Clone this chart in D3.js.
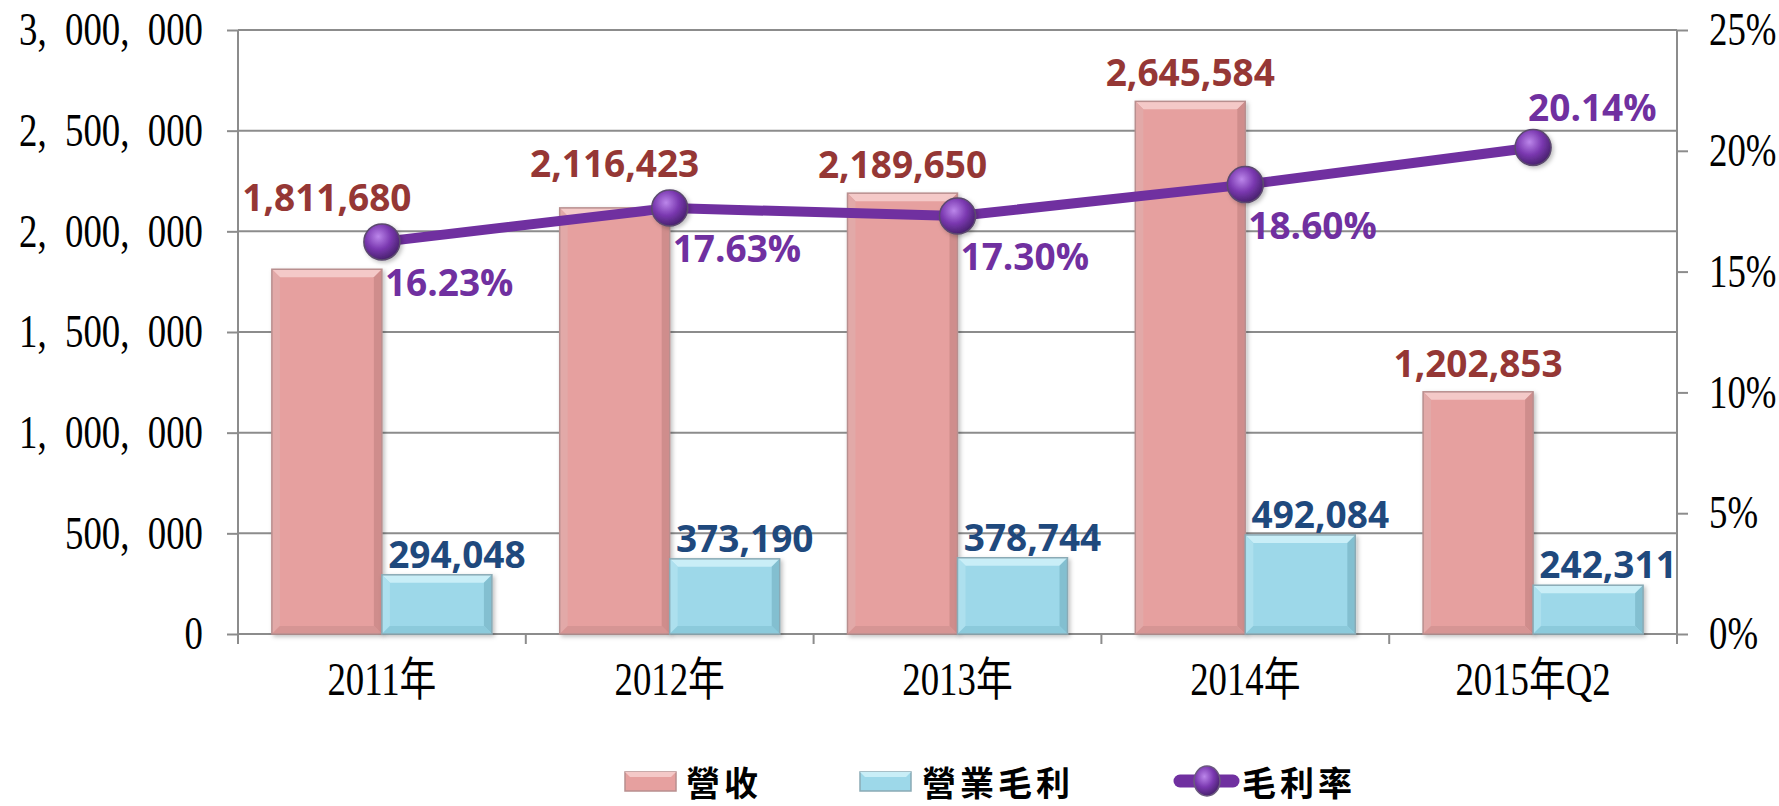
<!DOCTYPE html>
<html>
<head>
<meta charset="utf-8">
<script src="https://cdn.jsdelivr.net/npm/d3@7"></script>
<style>
  body { margin: 0; background: #fff; }
  svg { display: block; }
</style>
</head>
<body>
<div id="chart"></div>
<script>
// data
var years = ["2011年", "2012年", "2013年", "2014年", "2015年Q2"];
var revenue = [1811680, 2116423, 2189650, 2645584, 1202853];
var grossProfit = [294048, 373190, 378744, 492084, 242311];
var grossMargin = [0.1623, 0.1763, 0.1730, 0.1860, 0.2014];
var leftTicks = [0, 500000, 1000000, 1500000, 2000000, 2500000, 3000000];
var rightTicks = [0, 0.05, 0.10, 0.15, 0.20, 0.25];
var seriesNames = ["營收", "營業毛利", "毛利率"];

// set the dimensions and margins of the graph
var margin = {top: 30, right: 102, bottom: 172, left: 238},
    width = 1779 - margin.left - margin.right,
    height = 806 - margin.top - margin.bottom;

var squeeze = 0.8;   // tick labels are tall and narrow
var serif = "'Liberation Serif', 'Times New Roman', 'Noto Sans CJK TC', serif";
var sans = "'Open Sans', 'Noto Sans', sans-serif";

var root = d3.select("#chart")
  .append("svg")
    .attr("width", width + margin.left + margin.right)
    .attr("height", height + margin.top + margin.bottom);

var defs = root.append("defs");
var grad = defs.append("radialGradient")
    .attr("id", "ball")
    .attr("cx", "40%").attr("cy", "35%").attr("r", "65%");
grad.append("stop").attr("offset", "0%").attr("stop-color", "#bb86ea");
grad.append("stop").attr("offset", "55%").attr("stop-color", "#7a38b0");
grad.append("stop").attr("offset", "100%").attr("stop-color", "#4a2270");
defs.append("filter")
    .attr("id", "shadow")
    .attr("x", "-20%").attr("y", "-20%").attr("width", "140%").attr("height", "140%")
  .append("feDropShadow")
    .attr("dx", 2).attr("dy", 2).attr("stdDeviation", 2)
    .attr("flood-color", "#000").attr("flood-opacity", 0.25);

var svg = root.append("g")
    .attr("transform", "translate(" + margin.left + "," + margin.top + ")");

// scales
var x = d3.scaleBand()
  .domain(years)
  .range([0, width]);
var xs = d3.scaleBand()
  .domain(["rev", "gp"])
  .range([0, x.bandwidth()])
  .paddingOuter(0.308);
var y = d3.scaleLinear()
  .domain([0, 3000000])
  .range([height, 0]);
var y2 = d3.scaleLinear()
  .domain([0, 0.25])
  .range([height, 0]);

// gridlines
svg.append("g")
  .selectAll("line")
  .data(leftTicks)
  .enter().append("line")
    .attr("x1", 0)
    .attr("x2", width)
    .attr("y1", function(d) { return y(d); })
    .attr("y2", function(d) { return y(d); })
    .attr("stroke", "#8c8c8c")
    .attr("stroke-width", 2);

// left axis
var fmtLeft = function(d) { return d3.format(",")(d).replace(/,/g, ",\u2002"); };
var gl = svg.append("g")
  .call(d3.axisLeft(y).tickValues(leftTicks).tickFormat(fmtLeft).tickSize(11).tickPadding(24));
// right axis
var gr = svg.append("g")
  .attr("transform", "translate(" + width + ",0)")
  .call(d3.axisRight(y2).tickValues(rightTicks).tickFormat(d3.format(".0%")).tickSize(11).tickPadding(21));

[gl, gr].forEach(function(g) {
  g.select(".domain").attr("stroke", "#8c8c8c").attr("stroke-width", 2)
    .attr("d", function() { return "M0,0V" + (height + 10); });
  g.selectAll(".tick line").attr("stroke", "#8c8c8c").attr("stroke-width", 2);
  g.selectAll(".tick text")
    .attr("font-family", serif)
    .attr("font-size", 46)
    .attr("fill", "#000")
    .attr("transform", "scale(" + squeeze + ",1)")
    .attr("x", function() { return +d3.select(this).attr("x") / squeeze; });
});

// bottom axis: baseline, boundary ticks and labels
svg.append("line")
  .attr("x1", 0).attr("x2", width)
  .attr("y1", height).attr("y2", height)
  .attr("stroke", "#8c8c8c").attr("stroke-width", 2);
svg.append("g")
  .selectAll("line")
  .data(years.slice(1))
  .enter().append("line")
    .attr("x1", function(d) { return x(d); })
    .attr("x2", function(d) { return x(d); })
    .attr("y1", height)
    .attr("y2", height + 10)
    .attr("stroke", "#8c8c8c")
    .attr("stroke-width", 2);
var gb = svg.append("g")
  .attr("transform", "translate(0," + height + ")")
  .call(d3.axisBottom(x).tickSize(0));
gb.select(".domain").remove();
gb.selectAll(".tick text")
  .attr("font-family", serif)
  .attr("font-size", 46)
  .attr("fill", "#000")
  .attr("y", 61)
  .attr("dy", 0)
  .attr("transform", "scale(" + squeeze + ",1)");

// bevelled bars
function drawBar(g, x0, w, v, c) {
  var top = y(v), h = height - top, b = Math.min(8, h / 2);
  var bar = g.append("g").attr("filter", "url(#shadow)");
  bar.append("rect")
    .attr("x", x0).attr("y", top).attr("width", w).attr("height", h)
    .attr("fill", c.main);
  bar.append("polygon")
    .attr("points", [[x0, top], [x0 + w, top], [x0 + w - b, top + b], [x0 + b, top + b]].join(" "))
    .attr("fill", c.top);
  bar.append("polygon")
    .attr("points", [[x0 + w, top], [x0 + w, height], [x0 + w - b, height - b], [x0 + w - b, top + b]].join(" "))
    .attr("fill", c.right);
  bar.append("polygon")
    .attr("points", [[x0, top], [x0 + b, top + b], [x0 + b, height - b], [x0, height]].join(" "))
    .attr("fill", c.left);
  bar.append("polygon")
    .attr("points", [[x0, height], [x0 + b, height - b], [x0 + w - b, height - b], [x0 + w, height]].join(" "))
    .attr("fill", c.bottom);
  bar.append("rect")
    .attr("x", x0).attr("y", top).attr("width", w).attr("height", h)
    .attr("fill", "none").attr("stroke", c.edge).attr("stroke-width", 1.5);
}
var pink = {main: "#e6a09f", top: "#f4c9c8", right: "#cf8d8c", left: "#e2a9a8", bottom: "#d69594", edge: "#b88f8f"};
var blue = {main: "#9dd8e9", top: "#c9eef7", right: "#83bfd0", left: "#ade0ee", bottom: "#8ccadb", edge: "#8aaab5"};

var bars = svg.append("g");
years.forEach(function(yr, i) {
  drawBar(bars, x(yr) + xs("rev"), xs.bandwidth(), revenue[i], pink);
  drawBar(bars, x(yr) + xs("gp"), xs.bandwidth(), grossProfit[i], blue);
});

// line and markers
var cx = function(i) { return x(years[i]) + x.bandwidth() / 2; };
var r = 18;
var line = d3.line()
  .x(function(d, i) { return cx(i); })
  .y(function(d) { return y2(d); });

// revenue labels, lifted over the marker when they would collide
svg.append("g")
  .selectAll("text")
  .data(revenue)
  .enter().append("text")
    .attr("x", function(d, i) { return x(years[i]) + xs("rev") + xs.bandwidth() / 2; })
    .attr("y", function(d, i) {
      var base = y(d) - 15, my = y2(grossMargin[i]);
      if (my + r > base - 26 && my - r < base + 2) base = my - r - 13;
      return base;
    })
    .attr("text-anchor", "middle")
    .attr("font-family", sans)
    .attr("font-weight", 700)
    .attr("font-size", 37)
    .attr("fill", "#953735")
    .text(d3.format(","));

// gross profit labels
svg.append("g")
  .selectAll("text")
  .data(grossProfit)
  .enter().append("text")
    .attr("x", function(d, i) { return x(years[i]) + xs("gp") + xs.bandwidth() / 2 + 20; })
    .attr("y", function(d) { return y(d) - 7; })
    .attr("text-anchor", "middle")
    .attr("font-family", sans)
    .attr("font-weight", 700)
    .attr("font-size", 37)
    .attr("fill", "#1f497d")
    .text(d3.format(","));

svg.append("path")
  .datum(grossMargin)
  .attr("d", line)
  .attr("fill", "none")
  .attr("stroke", "#7030a0")
  .attr("stroke-width", 10)
  .attr("stroke-linejoin", "round");

svg.append("g")
  .selectAll("circle")
  .data(grossMargin)
  .enter().append("circle")
    .attr("cx", function(d, i) { return cx(i); })
    .attr("cy", function(d) { return y2(d); })
    .attr("r", r)
    .attr("fill", "url(#ball)")
    .attr("stroke", "#5b4a6e")
    .attr("stroke-width", 1.5)
    .attr("filter", "url(#shadow)");

// margin labels: below right, last one above
svg.append("g")
  .selectAll("text")
  .data(grossMargin)
  .enter().append("text")
    .attr("x", function(d, i) { return cx(i) + (i === grossMargin.length - 1 ? -5 : 3); })
    .attr("y", function(d, i) { return y2(d) + (i === grossMargin.length - 1 ? -26 : 54); })
    .attr("font-family", sans)
    .attr("font-weight", 700)
    .attr("font-size", 37)
    .attr("fill", "#7030a0")
    .text(d3.format(".2%"));

// legend
var legend = root.append("g");
var ly = 781;
var lx = [625, 860, 1174];
var tx = [686, 922, 1242];
[pink, blue].forEach(function(c, k) {
  legend.append("rect")
    .attr("x", lx[k]).attr("y", ly - 9).attr("width", 51).attr("height", 19)
    .attr("fill", c.main).attr("stroke", c.edge).attr("stroke-width", 1.5);
  legend.append("polygon")
    .attr("points", [[lx[k], ly - 9], [lx[k] + 51, ly - 9], [lx[k] + 46, ly - 4], [lx[k] + 5, ly - 4]].join(" "))
    .attr("fill", c.top);
});
legend.append("line")
  .attr("x1", lx[2] + 6).attr("x2", lx[2] + 59)
  .attr("y1", ly).attr("y2", ly)
  .attr("stroke", "#7030a0").attr("stroke-width", 13).attr("stroke-linecap", "round");
legend.append("ellipse")
  .attr("cx", lx[2] + 33).attr("cy", ly).attr("rx", 13).attr("ry", 15)
  .attr("fill", "url(#ball)").attr("stroke", "#6b5a7e").attr("stroke-width", 1.5);
legend.selectAll("text.name")
  .data(seriesNames)
  .enter().append("text")
    .attr("class", "name")
    .attr("x", function(d, i) { return tx[i]; })
    .attr("y", ly)
    .attr("dominant-baseline", "central")
    .attr("font-family", "'Noto Sans CJK TC', 'Noto Sans CJK SC', sans-serif")
    .attr("font-weight", 700)
    .attr("font-size", 34)
    .attr("letter-spacing", 4)
    .attr("fill", "#000")
    .text(function(d) { return d; });
</script>
</body>
</html>
